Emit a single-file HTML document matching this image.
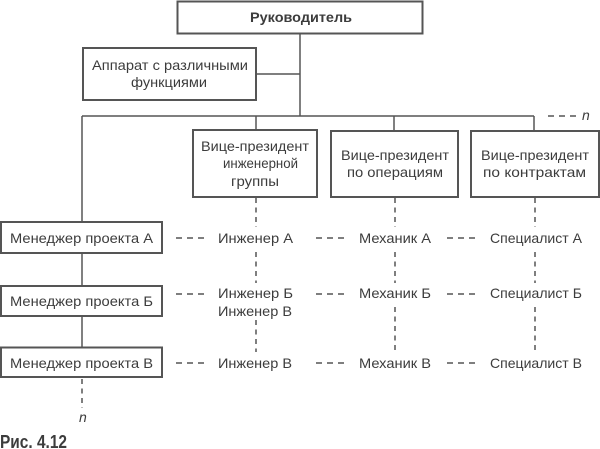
<!DOCTYPE html>
<html>
<head>
<meta charset="utf-8">
<style>
html,body{margin:0;padding:0;background:#fff;}
body{width:600px;height:449px;overflow:hidden;}
svg{display:block;}
text{font-family:"Liberation Sans","DejaVu Sans",sans-serif;fill:#3c3c3c;font-size:14px;}
</style>
</head>
<body>
<svg width="600" height="449" viewBox="0 0 600 449" xmlns="http://www.w3.org/2000/svg">
<g fill="none" stroke="#555" stroke-width="2">
  <rect x="177.5" y="1.5" width="245" height="32"/>
  <rect x="83" y="48" width="173" height="52"/>
  <rect x="193" y="130" width="124" height="67"/>
  <rect x="331" y="131" width="127" height="66"/>
  <rect x="471" y="131" width="128" height="66"/>
  <rect x="1" y="222" width="161" height="31"/>
  <rect x="1" y="286" width="161" height="30"/>
  <rect x="1" y="347.5" width="161" height="29.5"/>
</g>
<g fill="none" stroke="#555" stroke-width="1.5">
  <line x1="300" y1="33" x2="300" y2="116"/>
  <line x1="256" y1="74" x2="300" y2="74"/>
  <line x1="82" y1="116" x2="534" y2="116"/>
  <line x1="256" y1="116" x2="256" y2="130"/>
  <line x1="394" y1="116" x2="394" y2="131"/>
  <line x1="534" y1="116" x2="534" y2="131"/>
  <line x1="82" y1="116" x2="82" y2="222"/>
  <line x1="82" y1="253" x2="82" y2="286"/>
  <line x1="82" y1="316" x2="82" y2="347.5"/>
</g>
<g fill="none" stroke="#555" stroke-width="1.5" stroke-dasharray="5,4.5">
  <line x1="82" y1="379" x2="82" y2="408"/>
  <line x1="256" y1="198" x2="256" y2="227"/>
  <line x1="256" y1="252" x2="256" y2="283"/>
  <line x1="256" y1="320" x2="256" y2="352"/>
  <line x1="395" y1="198" x2="395" y2="227"/>
  <line x1="395" y1="252" x2="395" y2="283"/>
  <line x1="395" y1="307" x2="395" y2="352"/>
  <line x1="535" y1="198" x2="535" y2="227"/>
  <line x1="535" y1="252" x2="535" y2="283"/>
  <line x1="535" y1="307" x2="535" y2="352"/>
</g>
<g fill="none" stroke="#555" stroke-width="1.5" stroke-dasharray="6,5">
  <line x1="548" y1="116" x2="578" y2="116"/>
  <line x1="176" y1="238" x2="205" y2="238"/>
  <line x1="176" y1="294" x2="205" y2="294"/>
  <line x1="176" y1="363" x2="205" y2="363"/>
  <line x1="316" y1="238" x2="345" y2="238"/>
  <line x1="316" y1="294" x2="345" y2="294"/>
  <line x1="316" y1="363" x2="345" y2="363"/>
  <line x1="447" y1="238" x2="476" y2="238"/>
  <line x1="447" y1="294" x2="476" y2="294"/>
  <line x1="447" y1="363" x2="476" y2="363"/>
</g>

<text x="250" y="22" font-weight="bold" textLength="102" lengthAdjust="spacingAndGlyphs">Руководитель</text>

<text x="92" y="70" textLength="156" lengthAdjust="spacingAndGlyphs">Аппарат с различными</text>
<text x="131" y="87" textLength="76" lengthAdjust="spacingAndGlyphs">функциями</text>

<text x="201" y="151" textLength="108" lengthAdjust="spacingAndGlyphs">Вице-президент</text>
<text x="223" y="168" textLength="75" lengthAdjust="spacingAndGlyphs">инженерной</text>
<text x="231" y="186" textLength="48" lengthAdjust="spacingAndGlyphs">группы</text>

<text x="341" y="160" textLength="108" lengthAdjust="spacingAndGlyphs">Вице-президент</text>
<text x="347" y="177" textLength="96" lengthAdjust="spacingAndGlyphs">по операциям</text>

<text x="481" y="160" textLength="108" lengthAdjust="spacingAndGlyphs">Вице-президент</text>
<text x="483" y="177" textLength="103" lengthAdjust="spacingAndGlyphs">по контрактам</text>

<text x="10" y="243" textLength="143" lengthAdjust="spacingAndGlyphs">Менеджер проекта А</text>
<text x="10" y="306" textLength="143" lengthAdjust="spacingAndGlyphs">Менеджер проекта Б</text>
<text x="10" y="368" textLength="143" lengthAdjust="spacingAndGlyphs">Менеджер проекта В</text>

<text x="218" y="243" textLength="75" lengthAdjust="spacingAndGlyphs">Инженер А</text>
<text x="218" y="298" textLength="75" lengthAdjust="spacingAndGlyphs">Инженер Б</text>
<text x="218" y="316" textLength="74" lengthAdjust="spacingAndGlyphs">Инженер В</text>
<text x="218" y="368" textLength="74" lengthAdjust="spacingAndGlyphs">Инженер В</text>

<text x="359" y="243" textLength="72" lengthAdjust="spacingAndGlyphs">Механик А</text>
<text x="359" y="298" textLength="72" lengthAdjust="spacingAndGlyphs">Механик Б</text>
<text x="359" y="368" textLength="72" lengthAdjust="spacingAndGlyphs">Механик В</text>

<text x="490" y="243" textLength="92" lengthAdjust="spacingAndGlyphs">Специалист А</text>
<text x="490" y="298" textLength="92" lengthAdjust="spacingAndGlyphs">Специалист Б</text>
<text x="490" y="368" textLength="92" lengthAdjust="spacingAndGlyphs">Специалист В</text>

<text x="582" y="120" font-style="italic">n</text>
<text x="79" y="422" font-style="italic">n</text>

<text x="0" y="448" font-weight="bold" textLength="67" lengthAdjust="spacingAndGlyphs" style="font-size:18px">Рис. 4.12</text>
</svg>
</body>
</html>
